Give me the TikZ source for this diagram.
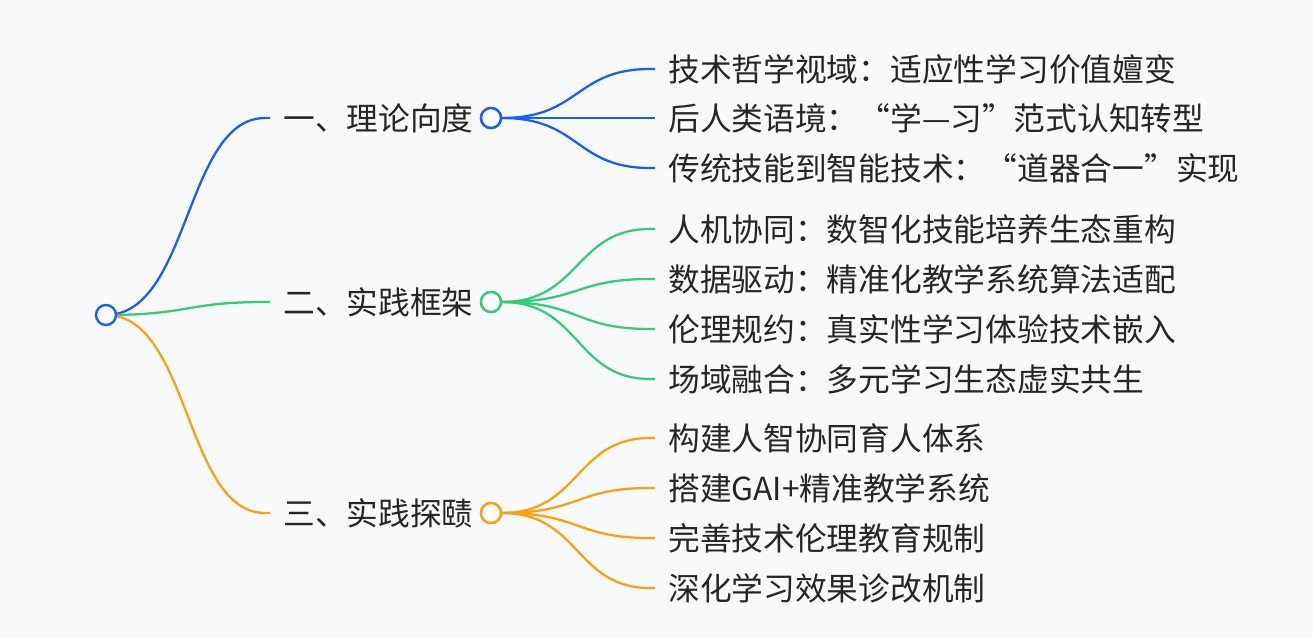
\documentclass[tikz,border=0pt]{standalone}
\usepackage{fontspec}
\setmainfont{Noto Sans CJK SC}
\begin{document}
\begin{tikzpicture}[x=0.75pt,y=-0.75pt,
  lbl/.style={anchor=west,inner sep=0pt,font=\fontsize{23.8pt}{26pt}\selectfont,text=black!85},
  dot/.style={circle,draw=#1,line width=1.8pt,fill=white,minimum size=15pt,inner sep=0pt},
  br/.style={draw=#1,line width=1.7pt}]
\definecolor{cb}{HTML}{1A5CF5}
\definecolor{cg}{HTML}{34CB79}
\definecolor{co}{HTML}{FF9F0F}
\fill[fill={rgb,255:red,248;green,249;blue,251}] (0,0) rectangle (1313,638);
\useasboundingbox (0,0) rectangle (1313,638);
\coordinate (rt) at (106,315);
% level 1
\foreach \n/\y/\c/\t in {a/118/cb/一、理论向度, b/302/cg/二、实践框架, c/513/co/三、实践探赜}{
  \coordinate (\n s) at (265,\y);
  \node[lbl] (\n t) at (283,\y) {\t};
  \node[dot=\c] (\n d) at (491,\y) {};
  \draw[br=\c] (rt) .. controls (190,315) and (185,\y) .. (\n s) -- (270,\y);
}
\node[dot=cb] (r) at (rt) {};
% leaves
\foreach \p/\py/\y/\c/\t in {
 ad/118/69/cb/技术哲学视域：适应性学习价值嬗变,
 ad/118/118/cb/后人类语境：“学—习”范式认知转型,
 ad/118/168/cb/传统技能到智能技术：“道器合一”实现,
 bd/302/229/cg/人机协同：数智化技能培养生态重构,
 bd/302/279/cg/数据驱动：精准化教学系统算法适配,
 bd/302/329/cg/伦理规约：真实性学习体验技术嵌入,
 bd/302/379/cg/场域融合：多元学习生态虚实共生,
 cd/513/438/co/构建人智协同育人体系,
 cd/513/488/co/搭建GAI+精准教学系统,
 cd/513/538/co/完善技术伦理教育规制,
 cd/513/588/co/深化学习效果诊改机制}{
  \coordinate (e) at (650,\y);
  \node[lbl] at (668,\y) {\t};
  \draw[br=\c] (\p.east) .. controls (580,\py) and (575,\y) .. (e) -- (655,\y);
}
\node[dot=cb] at (491,118) {};
\node[dot=cg] at (491,302) {};
\node[dot=co] at (491,513) {};
\end{tikzpicture}
\end{document}
